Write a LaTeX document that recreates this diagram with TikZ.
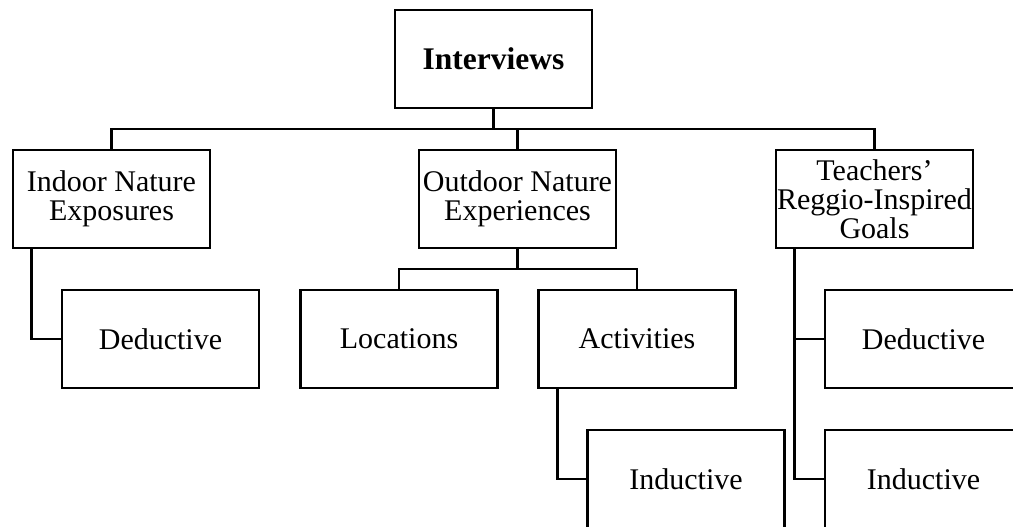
\documentclass[tikz,border=0pt]{standalone}
\usepackage{fontspec}
\setmainfont{Liberation Serif}
\usepackage{tikz}

\tikzset{
    box/.style={draw, line width=2.6pt, minimum width=197pt, minimum height=98pt,
        inner sep=0pt, align=center, font=\fontsize{30}{29}\selectfont},
    link/.style={line width=2.6pt}
}

\begin{document}
\begin{tikzpicture}[x=1pt, y=-1pt]
        \useasboundingbox (0,0) rectangle (1013,527);

        \node[box, font=\fontsize{31.5}{34}\selectfont\bfseries] (interviews) at (493.5,59) {Interviews};

        \node[box] (indoor)  at (111.5,199) {Indoor Nature\\Exposures};
        \node[box] (outdoor) at (517.5,199) {Outdoor Nature\\Experiences};
        \node[box] (goals)   at (874.5,199) {Teachers'\\Reggio-Inspired\\Goals};

        \node[box] (dedleft)  at (160.5,339) {Deductive};
        \node[box] (locations) at (399,339) {Locations};
        \node[box] (activities) at (637,339) {Activities};
        \node[box] (indmid)   at (686,479) {Inductive};
        \node[box] (dedright) at (923.5,339) {Deductive};
        \node[box] (indright) at (923.5,479) {Inductive};

        \coordinate (topbus) at (493.5,129);
        \coordinate (outbus) at (517.5,269);

        \draw[link] (interviews.south) -- (topbus);
        \foreach \n in {indoor,outdoor,goals} {
                \draw[link] (topbus) -| (\n.north);
            }

        \draw[link] (outdoor.south) -- (outbus);
        \foreach \n in {locations,activities} {
                \draw[link] (outbus) -| (\n.north);
            }

        \draw[link] ([xshift=20pt]indoor.south west) |- (dedleft.west);
        \draw[link] ([xshift=20pt]activities.south west) |- (indmid.west);
        \foreach \n in {dedright,indright} {
                \draw[link] ([xshift=20pt]goals.south west) |- (\n.west);
            }
    \end{tikzpicture}
\end{document}
